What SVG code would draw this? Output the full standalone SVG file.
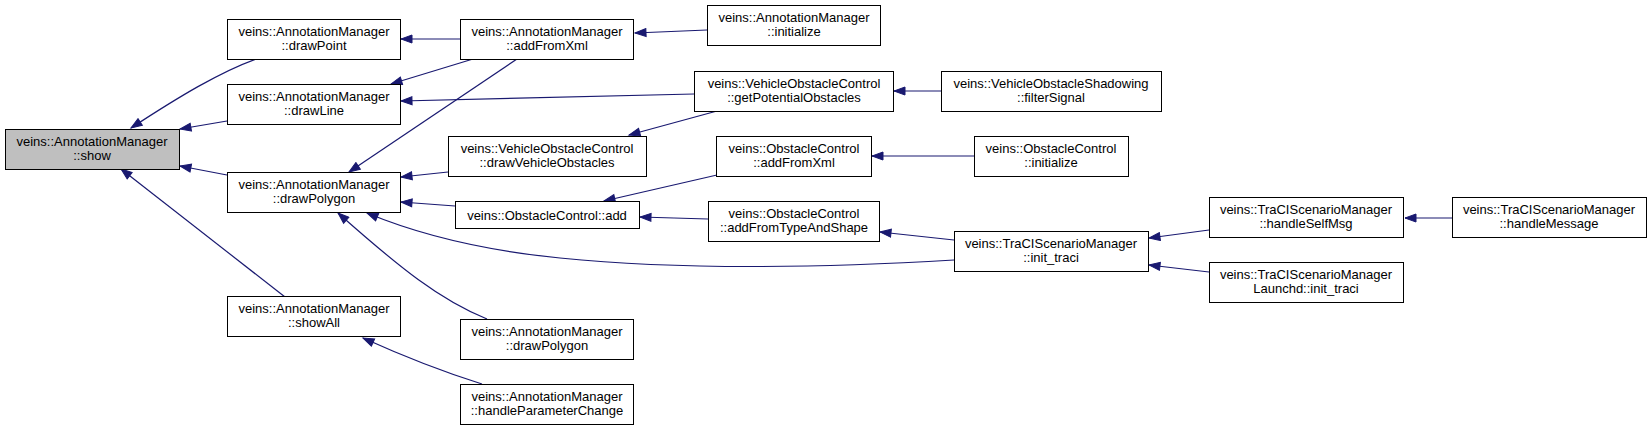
<svg xmlns="http://www.w3.org/2000/svg" width="1652" height="431" viewBox="0 0 1652 431">
<style>
.n rect{fill:#fff;stroke:#000;stroke-width:1}
.n text{font-family:"Liberation Sans",Arial,sans-serif;font-size:13px;fill:#000;text-anchor:middle}
#n_show rect{fill:#bfbfbf}
.e path{fill:none;stroke:#191970;stroke-width:1.2;marker-end:url(#ah)}
</style>
<defs>
<marker id="ah" markerUnits="userSpaceOnUse" markerWidth="14" markerHeight="10" refX="12" refY="5" orient="auto" viewBox="0 0 14 10">
<path d="M1,1 L12,5 L1,9 Z" fill="#191970" stroke="#191970" stroke-width="1"/>
</marker>
</defs>
<rect width="1652" height="431" fill="#fff"/>
<g id="edges" class="e">
<path d="M256,59 C220,72 180,96 131,128"/>
<path d="M227,121 L180,129"/>
<path d="M227,175 L180,166"/>
<path d="M285,297 L121,169"/>
<path d="M460,39 L401,39"/>
<path d="M473,59 L391,84"/>
<path d="M517,59 L349,172"/>
<path d="M707,30 L635,33"/>
<path d="M694,94 L401,101"/>
<path d="M941,91 L894,91"/>
<path d="M717,111 L629,135"/>
<path d="M448,172 L401,177"/>
<path d="M455,206 L401,202"/>
<path d="M717,175 L604,201"/>
<path d="M974,156 L872,156"/>
<path d="M708,219 L640,217"/>
<path d="M954,240 L880,232"/>
<path d="M954,260 C820,268 680,270 560,258 C480,250 420,235 367,213"/>
<path d="M487,319 C440,300 400,268 338,213"/>
<path d="M482,384 C450,374 405,357 363,338"/>
<path d="M1209,230 L1149,238"/>
<path d="M1209,272 L1149,265"/>
<path d="M1452,218 L1405,218"/>
</g>
<g id="n_show" class="n"><rect x="5.5" y="129.5" width="174" height="40"/><text x="92" y="145.5">veins::AnnotationManager</text><text x="92" y="159.5">::show</text></g>
<g id="n_drawPoint" class="n"><rect x="227.5" y="19.5" width="173" height="40"/><text x="314" y="35.5">veins::AnnotationManager</text><text x="314" y="49.5">::drawPoint</text></g>
<g id="n_drawLine" class="n"><rect x="227.5" y="84.5" width="173" height="40"/><text x="314" y="100.5">veins::AnnotationManager</text><text x="314" y="114.5">::drawLine</text></g>
<g id="n_drawPolygon" class="n"><rect x="227.5" y="172.5" width="173" height="40"/><text x="314" y="188.5">veins::AnnotationManager</text><text x="314" y="202.5">::drawPolygon</text></g>
<g id="n_showAll" class="n"><rect x="227.5" y="296.5" width="173" height="40"/><text x="314" y="312.5">veins::AnnotationManager</text><text x="314" y="326.5">::showAll</text></g>
<g id="n_am_addFromXml" class="n"><rect x="460.5" y="19.5" width="173" height="40"/><text x="547" y="35.5">veins::AnnotationManager</text><text x="547" y="49.5">::addFromXml</text></g>
<g id="n_am_initialize" class="n"><rect x="707.5" y="5.5" width="173" height="40"/><text x="794" y="21.5">veins::AnnotationManager</text><text x="794" y="35.5">::initialize</text></g>
<g id="n_getPotentialObstacles" class="n"><rect x="694.5" y="71.5" width="199" height="40"/><text x="794" y="87.5">veins::VehicleObstacleControl</text><text x="794" y="101.5">::getPotentialObstacles</text></g>
<g id="n_drawVehicleObstacles" class="n"><rect x="448.5" y="136.5" width="198" height="40"/><text x="547" y="152.5">veins::VehicleObstacleControl</text><text x="547" y="166.5">::drawVehicleObstacles</text></g>
<g id="n_oc_addFromXml" class="n"><rect x="716.5" y="136.5" width="155" height="40"/><text x="794" y="152.5">veins::ObstacleControl</text><text x="794" y="166.5">::addFromXml</text></g>
<g id="n_oc_add" class="n"><rect x="455.5" y="201.5" width="184" height="27"/><text x="547" y="219.5">veins::ObstacleControl::add</text></g>
<g id="n_addFromTypeAndShape" class="n"><rect x="708.5" y="201.5" width="171" height="40"/><text x="794" y="217.5">veins::ObstacleControl</text><text x="794" y="231.5">::addFromTypeAndShape</text></g>
<g id="n_drawPolygon2" class="n"><rect x="460.5" y="319.5" width="173" height="40"/><text x="547" y="335.5">veins::AnnotationManager</text><text x="547" y="349.5">::drawPolygon</text></g>
<g id="n_handleParameterChange" class="n"><rect x="460.5" y="384.5" width="173" height="40"/><text x="547" y="400.5">veins::AnnotationManager</text><text x="547" y="414.5">::handleParameterChange</text></g>
<g id="n_filterSignal" class="n"><rect x="941.5" y="71.5" width="220" height="40"/><text x="1051" y="87.5">veins::VehicleObstacleShadowing</text><text x="1051" y="101.5">::filterSignal</text></g>
<g id="n_oc_initialize" class="n"><rect x="974.5" y="136.5" width="154" height="40"/><text x="1051" y="152.5">veins::ObstacleControl</text><text x="1051" y="166.5">::initialize</text></g>
<g id="n_init_traci" class="n"><rect x="954.5" y="231.5" width="194" height="40"/><text x="1051" y="247.5">veins::TraCIScenarioManager</text><text x="1051" y="261.5">::init_traci</text></g>
<g id="n_handleSelfMsg" class="n"><rect x="1209.5" y="197.5" width="194" height="40"/><text x="1306" y="213.5">veins::TraCIScenarioManager</text><text x="1306" y="227.5">::handleSelfMsg</text></g>
<g id="n_handleMessage" class="n"><rect x="1452.5" y="197.5" width="194" height="40"/><text x="1549" y="213.5">veins::TraCIScenarioManager</text><text x="1549" y="227.5">::handleMessage</text></g>
<g id="n_launchd_init_traci" class="n"><rect x="1209.5" y="262.5" width="194" height="40"/><text x="1306" y="278.5">veins::TraCIScenarioManager</text><text x="1306" y="292.5">Launchd::init_traci</text></g>
</svg>
